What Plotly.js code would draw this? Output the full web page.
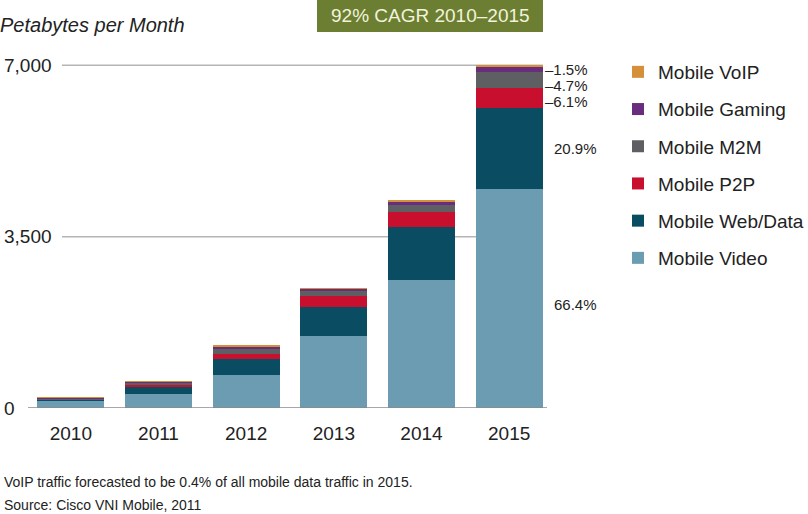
<!DOCTYPE html>
<html>
<head>
<meta charset="utf-8">
<script src="https://cdn.plot.ly/plotly-3.0.1.min.js"></script>
<style>html,body{margin:0;padding:0;background:#fff;}#chart{width:808px;height:514px;}</style>
</head>
<body>
<div id="chart"></div>
<script>
// ---- data ----
const years = ['2010', '2011', '2012', '2013', '2014', '2015'];
const mobileVideo   = [133, 286, 675, 1463, 2609, 4470];
const mobileWebData = [25, 133, 317, 600, 1091, 1650];
const mobileP2P     = [15, 41, 113, 219, 307, 415];
const mobileM2M     = [15, 41, 92, 100, 137, 335];
const mobileGaming  = [25, 31, 51, 40, 55, 90];
const mobileVoIP    = [8, 20, 30, 35, 47, 50];
const seriesNames = ['Mobile Video', 'Mobile Web/Data', 'Mobile P2P', 'Mobile M2M', 'Mobile Gaming', 'Mobile VoIP'];
const shares2015 = ['66.4%', '20.9%', '6.1%', '4.7%', '1.5%', '0.4%'];
const yTickVals = [0, 3500, 7000];
const yTickText = ['0', '3,500', '7,000'];
const cagrText = '92% CAGR 2010–2015';
const footnote = 'VoIP traffic forecasted to be 0.4% of all mobile data traffic in 2015.';
const sourceText = 'Source: Cisco VNI Mobile, 2011';

const colors = ['#6b9cb1', '#0a4d62', '#c8102e', '#5e5f62', '#6a2c7c', '#d4913a'];
const seriesVals = [mobileVideo, mobileWebData, mobileP2P, mobileM2M, mobileGaming, mobileVoIP];

const FONT = 'Liberation Sans, Arial, sans-serif';
const TXT = '#222222';

const traces = seriesVals.map((v, i) => ({
  type: 'bar', x: years, y: v, name: seriesNames[i],
  marker: {color: colors[i], line: {width: 0}},
  legendgroup: 'g' + i, legendrank: seriesVals.length - i, hoverinfo: 'skip'
}));

// plot area in pixels
const L = 27, R = 553, T = 55, B = 408;
const W = R - L, H = B - T;
const px2x = p => (p - L) / W;
const py2y = p => (B - p) / H;

const shapes = [];
yTickVals.forEach(v => {
  if (v === 0) {
    shapes.push({type: 'line', xref: 'paper', yref: 'y', x0: px2x(28), x1: px2x(547), y0: v, y1: v,
      line: {color: '#8a8a8a', width: 1.5}, layer: 'above'});
  } else {
    shapes.push({type: 'line', xref: 'paper', yref: 'y', x0: px2x(62), x1: px2x(543), y0: v, y1: v,
      line: {color: '#b5b5b5', width: 1.5}, layer: 'below'});
  }
});
shapes.push({type: 'rect', xref: 'paper', yref: 'paper', x0: px2x(317), x1: px2x(543), y0: py2y(32), y1: py2y(0),
  fillcolor: '#6c7e31', line: {width: 0}});

const annotations = [];
yTickVals.forEach((v, i) => {
  annotations.push({xref: 'paper', yref: 'y', x: px2x(2), y: v, xanchor: 'left', yanchor: 'middle',
    text: yTickText[i], showarrow: false, font: {family: FONT, size: 19, color: TXT}});
});
annotations.push({xref: 'paper', yref: 'paper', x: px2x(430), y: py2y(16), xanchor: 'center', yanchor: 'middle',
  text: cagrText, showarrow: false, font: {family: FONT, size: 19, color: '#f1f3dc'}});
annotations.push({xref: 'paper', yref: 'paper', x: px2x(2), y: py2y(482), xanchor: 'left', yanchor: 'middle',
  text: footnote, showarrow: false, font: {family: FONT, size: 14, color: TXT}});
annotations.push({xref: 'paper', yref: 'paper', x: px2x(2), y: py2y(505), xanchor: 'left', yanchor: 'middle',
  text: sourceText, showarrow: false, font: {family: FONT, size: 14, color: TXT}});

// 2015 share labels (placed right of the last bar)
const last = years.length - 1;
let cum = 0;
const yShifts = [-6, 0, -3, -6, 0];
for (let i = 0; i < 5; i++) {
  const v = seriesVals[i][last];
  const mid = cum + v / 2;
  cum += v;
  const dash = i >= 2;
  annotations.push({xref: 'paper', yref: 'y', x: px2x(dash ? 543 : 552), y: mid, xanchor: 'left', yanchor: 'middle',
    yshift: yShifts[i], text: (dash ? '–' : '') + shares2015[i], showarrow: false,
    font: {family: FONT, size: 15, color: TXT}});
}

const layout = {
  width: 808, height: 514,
  margin: {l: L, r: 808 - R, t: T, b: 514 - B, pad: 0, autoexpand: false},
  paper_bgcolor: '#ffffff', plot_bgcolor: '#ffffff',
  barmode: 'stack', bargap: 0.236,
  font: {family: FONT, color: TXT},
  title: {text: '<i>Petabytes per Month</i>', x: 0, xref: 'container', xanchor: 'left',
    y: 1 - 25 / 514, yref: 'container', yanchor: 'middle', font: {family: FONT, size: 20, color: TXT}},
  xaxis: {type: 'category', range: [-0.5, 5.5], showgrid: false, zeroline: false, showline: false,
    ticks: '', tickfont: {family: FONT, size: 19, color: TXT}, ticklabelstandoff: 12, fixedrange: true},
  yaxis: {range: [0, 7000 * H / (B - 65.3)], showgrid: false, zeroline: false, showline: false,
    showticklabels: false, ticks: '', fixedrange: true},
  legend: {x: px2x(618), y: py2y(53), xanchor: 'left', yanchor: 'top', traceorder: 'grouped',
    tracegroupgap: 9.5, font: {family: FONT, size: 19, color: TXT}, bgcolor: 'rgba(0,0,0,0)'},
  shapes: shapes,
  annotations: annotations,
  showlegend: true
};

Plotly.newPlot('chart', traces, layout, {displayModeBar: false, staticPlot: true});
</script>
</body>
</html>
